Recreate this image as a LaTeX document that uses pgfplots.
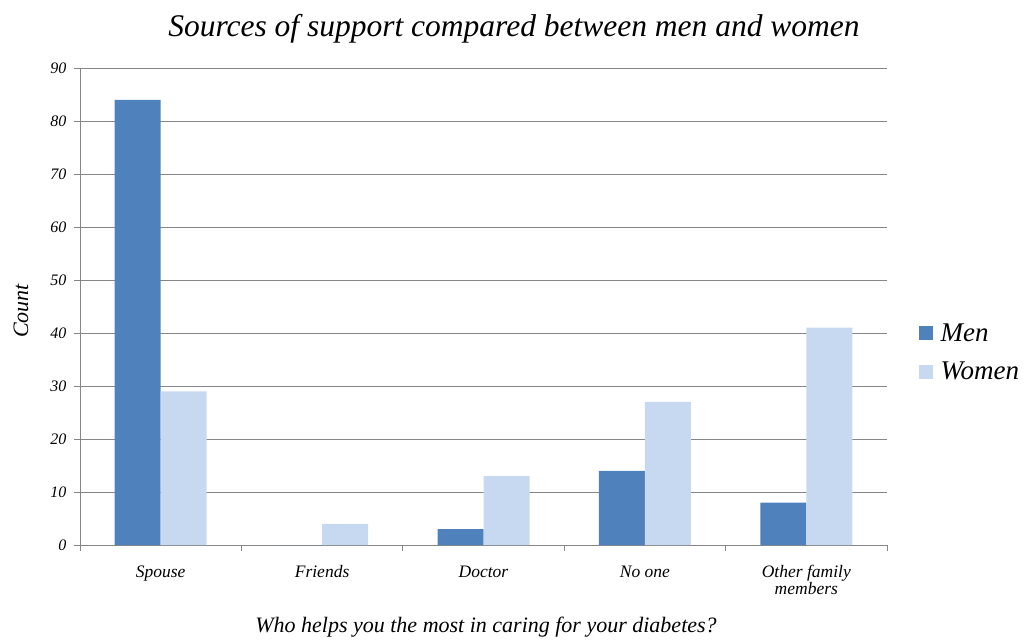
\documentclass[border=0pt]{standalone}
\usepackage{pgfplots}
\pgfplotsset{compat=1.18}
\usepackage{fontspec}
\setmainfont{Liberation Serif}
\definecolor{menc}{HTML}{4F81BD}
\definecolor{womc}{HTML}{C6D9F1}
\definecolor{gridc}{HTML}{868686}
\newcommand\xs{\rule{0pt}{14pt}}
\begin{document}
\begin{tikzpicture}
\begin{axis}[
  scale only axis,
  width=807pt, height=477pt,
  ybar=0pt, bar width=46pt,
  xmin=-0.5, xmax=4.5,
  ymin=0, ymax=90,
  xtick={0,1,2,3,4},
  xticklabels={\xs Spouse,\xs Friends,\xs Doctor,\xs No one,{\xs Other family\\members}},
  xticklabel style={font=\itshape\fontsize{17.5}{15}\selectfont, align=center, anchor=north, yshift=-9pt},
  major x tick style={draw=none},
  minor xtick={-0.5,0.5,1.5,2.5,3.5,4.5},
  minor tick length=6pt,
  ytick={0,10,...,90},
  yticklabel style={font=\itshape\fontsize{16}{16}\selectfont, xshift=-4pt},
  /pgf/number format/assume math mode=true,
  major tick length=6pt,
  tick align=outside,
  tick style={gridc, line width=0.8pt},
  ymajorgrids,
  grid style={gridc, line width=0.8pt},
  axis x line*=bottom,
  axis y line*=left,
  axis line style={gridc, line width=1pt},
  clip=false,
]
\addplot[fill=menc, draw=none] coordinates {(0,84) (1,0) (2,3) (3,14) (4,8)};
\addplot[fill=womc, draw=none] coordinates {(0,29) (1,4) (2,13) (3,27) (4,41)};
\end{axis}
% title and labels
\node[font=\itshape\fontsize{31.5}{31.5}\selectfont, anchor=center] at ([xshift=434pt,yshift=516pt]current axis.south west) {Sources of support compared between men and women};
\node[font=\itshape\fontsize{22}{22}\selectfont, anchor=center] at ([xshift=406pt,yshift=-82pt]current axis.south west) {Who helps you the most in caring for your diabetes?};
\node[font=\itshape\fontsize{22}{22}\selectfont, anchor=center, rotate=90] at ([xshift=-59pt,yshift=234pt]current axis.south west) {Count};
% legend
\fill[menc] ([xshift=839pt,yshift=205pt]current axis.south west) rectangle ++(14pt,14pt);
\node[font=\itshape\fontsize{27}{27}\selectfont, anchor=west] at ([xshift=857pt,yshift=212pt]current axis.south west) {Men};
\fill[womc] ([xshift=839pt,yshift=166pt]current axis.south west) rectangle ++(14pt,14pt);
\node[font=\itshape\fontsize{27}{27}\selectfont, anchor=west] at ([xshift=857pt,yshift=174pt]current axis.south west) {Women};
\path ([xshift=-80pt,yshift=-97pt]current axis.south west) rectangle ++(1030pt,642pt);
\end{tikzpicture}
\end{document}
